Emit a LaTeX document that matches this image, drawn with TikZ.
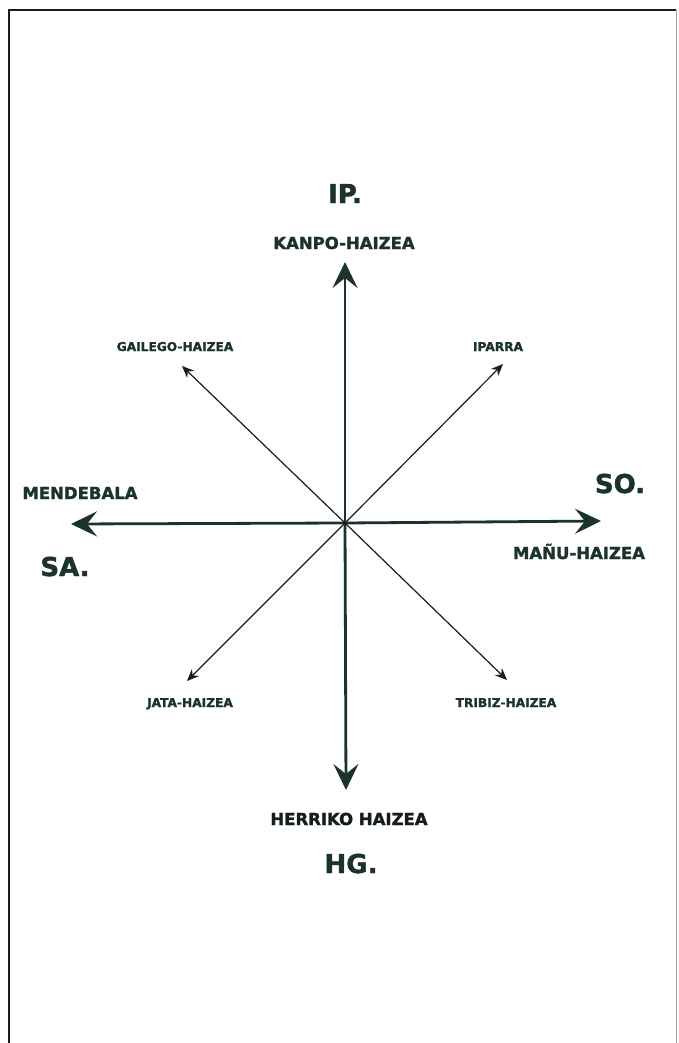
\documentclass[tikz,border=0pt]{standalone}
\usepackage{fontspec}
\setmainfont{DejaVu Sans}
\newfontfamily\heavyfont[FakeBold=1.6]{DejaVu Sans Bold}
\usetikzlibrary{arrows.meta}
\definecolor{ink}{RGB}{28,52,40}
\definecolor{inkb}{RGB}{22,30,26}
\tikzset{
  mainarrow/.style={draw=ink, line width=2.8pt, -{Stealth[length=26pt,width=25pt,inset=10pt]}},
  diagarrow/.style={draw=inkb, line width=1.2pt, -{Stealth[length=12pt,width=10pt,inset=4pt]}},
  biglbl/.style={font=\fontsize{26}{26}\heavyfont, text=ink, inner sep=0pt, anchor=base},
  medlbl/.style={font=\fontsize{16.5}{16.5}\heavyfont, text=ink, inner sep=0pt, anchor=base},
  smalllbl/.style={font=\fontsize{12.2}{12.2}\heavyfont, text=ink, inner sep=0pt, anchor=base},
  frame/.style={draw=inkb, line width=2.5pt}
}
\begin{document}
\begin{tikzpicture}[x=1pt,y=-1pt]
\useasboundingbox (0,0) rectangle (678,1043);
\fill[white] (0,0) rectangle (678,1043);
% frame
\coordinate (fbl) at (9,1043);
\coordinate (ftl) at (9,10);
\coordinate (ftr) at (676,10);
\coordinate (fbr) at (676,1043);
\draw[frame] (fbl) -- (ftl) -- (ftr);
\draw[draw=gray!70, line width=1pt] (ftr) -- (fbr);
% centre and arrow ends
\coordinate (c) at (345,523);
\coordinate (n) at (345,262);
\coordinate (s) at (346,790);
\coordinate (w) at (71,524);
\coordinate (e) at (601,521);
\coordinate (nw) at (182,366);
\coordinate (ne) at (503,364);
\coordinate (sw) at (187,681);
\coordinate (se) at (507,680);
\draw[mainarrow] (c) -- (n);
\draw[mainarrow] (c) -- (s);
\draw[mainarrow] (c) -- (w);
\draw[mainarrow] (c) -- (e);
\draw[diagarrow] (c) -- (nw);
\draw[diagarrow] (c) -- (ne);
\draw[diagarrow] (c) -- (sw);
\draw[diagarrow] (c) -- (se);
% labels
\node[biglbl] (ip) at (345,203) {IP.};
\node[medlbl] (kanpo) at (344,249) {KANPO-HAIZEA};
\node[smalllbl] (gailego) at (175,351) {GAILEGO-HAIZEA};
\node[smalllbl] (iparra) at (498,351) {IPARRA};
\node[medlbl] (mendebala) at (80,499) {MENDEBALA};
\node[biglbl] (sa) at (65,576) {SA.};
\node[biglbl] (so) at (620,493) {SO.};
\node[medlbl] (manu) at (579,559) {MAÑU-HAIZEA};
\node[smalllbl] (jata) at (190,707) {JATA-HAIZEA};
\node[smalllbl] (tribiz) at (506,707) {TRIBIZ-HAIZEA};
\node[medlbl, text=inkb] (herriko) at (349,825) {HERRIKO HAIZEA};
\node[biglbl] (hg) at (351,873) {HG.};
\end{tikzpicture}
\end{document}
